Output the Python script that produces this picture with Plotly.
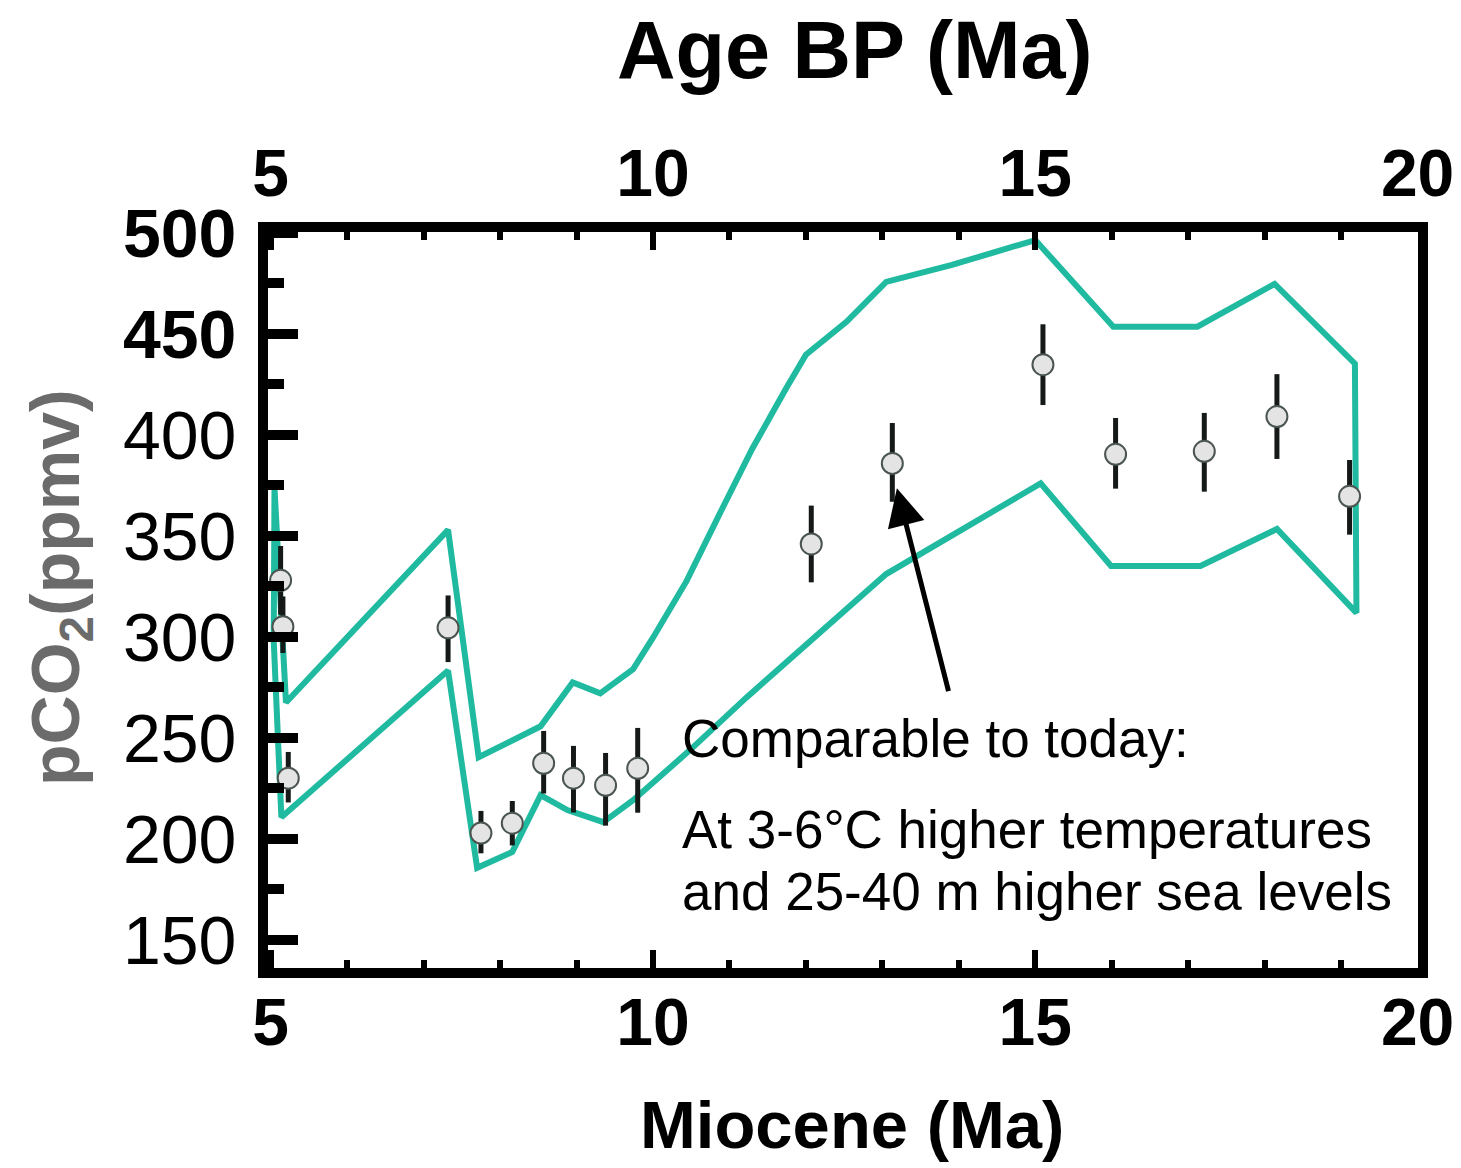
import plotly.graph_objects as go

# ---- data ----
upper_x = [5.05, 5.20, 7.32, 7.72, 8.53, 8.95, 9.31, 9.74, 10.0, 10.44, 10.87, 11.30, 11.74, 12.0, 12.53, 13.05, 13.91, 15.0, 16.02, 17.12, 18.13, 19.18, 19.20]
upper_y = [373.6, 267.5, 353.0, 240.4, 255.7, 277.4, 272.0, 284.0, 299.6, 327.7, 360.8, 393.3, 423.0, 439.7, 456.0, 475.8, 484.2, 496.5, 453.6, 453.6, 474.8, 435.3, 311.9]
lower_x = [5.04, 5.14, 7.32, 7.70, 8.16, 8.53, 8.88, 9.35, 9.74, 10.48, 11.22, 13.05, 15.07, 15.99, 17.16, 18.16, 19.20]
lower_y = [298.0, 210.7, 283.3, 185.6, 193.5, 221.6, 214.2, 208.2, 219.1, 243.8, 269.9, 331.1, 376.0, 335.1, 335.1, 353.4, 311.9]

pt_x = [5.13, 5.16, 5.23, 7.32, 7.75, 8.16, 8.57, 8.96, 9.38, 9.80, 12.07, 13.13, 15.10, 16.05, 17.21, 18.16, 19.11]
pt_y = [328.0, 305.0, 230.0, 304.5, 202.8, 207.7, 237.4, 230.0, 226.5, 234.9, 346.0, 385.9, 434.8, 390.4, 391.9, 409.1, 369.6]
err_plus = [17, 15, 13, 16, 11, 11, 16, 16, 16, 20, 19, 20, 20, 18, 19, 21, 18]
err_minus = [17, 13, 12, 17, 10, 11, 15, 17, 20, 22, 19, 19, 20, 17, 20, 21, 19]

x_ticks = [5, 10, 15, 20]
y_ticks = [150, 200, 250, 300, 350, 400, 450, 500]
y_ticktext = ["150", "200", "250", "300", "350", "400", "<b>450</b>", "<b>500</b>"]

TEAL = "#1FBA9F"
FONT = "Liberation Sans, Arial, sans-serif"

fig = go.Figure()

env_x = upper_x + lower_x[::-1] + [upper_x[0]]
env_y = upper_y + lower_y[::-1] + [upper_y[0]]
fig.add_trace(go.Scatter(x=env_x, y=env_y, mode="lines",
                         line=dict(color=TEAL, width=6), hoverinfo="skip"))

fig.add_trace(go.Scatter(
    x=pt_x, y=pt_y, mode="markers",
    marker=dict(size=21, color="#e4e4e4", line=dict(color="#4a5550", width=2)),
    error_y=dict(type="data", array=err_plus, arrayminus=err_minus,
                 thickness=5, width=0, color="#151a18"),
))

# invisible trace for top axis
fig.add_trace(go.Scatter(x=[x_ticks[0]], y=[y_ticks[0]], xaxis="x2", mode="markers",
                         marker=dict(opacity=0), hoverinfo="skip"))

XR = [4.965, 20.005]
YR = [136.0, 500.5]

# page body has an 8px margin: the figure is drawn at (8, 8)
OFF = 8
FIG_W = 1461 - OFF
FIG_H = 1168 - OFF
fig.update_layout(
    width=FIG_W, height=FIG_H,
    margin=dict(l=268 - OFF, r=FIG_W + OFF - 1418, t=232 - OFF, b=FIG_H + OFF - 968),
    paper_bgcolor="white", plot_bgcolor="white",
    showlegend=False,
    font=dict(family=FONT, color="black"),
    xaxis=dict(range=XR, tickvals=x_ticks, ticktext=[f"<b>{v}</b>" for v in x_ticks],
               showgrid=False, zeroline=False, automargin=False,
               showline=True, linewidth=10, linecolor="black", mirror="ticks",
               ticks="inside", ticklen=18, tickwidth=6, tickcolor="black",
               ticklabelstandoff=-12, ticklabeloverflow="allow",
               minor=dict(dtick=1, tick0=5, ticks="inside", ticklen=8, tickwidth=6, tickcolor="black"),
               tickfont=dict(size=66, family=FONT, color="black")),
    xaxis2=dict(range=XR, overlaying="x", side="top", tickvals=x_ticks,
                ticktext=[f"<b>{v}</b>" for v in x_ticks], automargin=False,
                showgrid=False, zeroline=False, showline=False, ticks="",
                ticklabelstandoff=22, ticklabeloverflow="allow",
                tickfont=dict(size=66, family=FONT, color="black")),
    yaxis=dict(range=YR, tickvals=y_ticks, ticktext=y_ticktext,
               showgrid=False, zeroline=False, automargin=False,
               showline=True, linewidth=10, linecolor="black", mirror=True,
               ticks="inside", ticklen=30, tickwidth=10, tickcolor="black",
               ticklabelstandoff=8,
               minor=dict(dtick=25, tick0=150, ticks="inside", ticklen=16, tickwidth=10, tickcolor="black"),
               tickfont=dict(size=68, family=FONT, color="black")),
)

W, H = 1150.0, 736.0
def px(xp):
    return (xp - 268) / W
def py(yp):
    return (968 - yp) / H

annos = [
    dict(text="<b>Age BP (Ma)</b>", x=px(855), y=py(50), xref="paper", yref="paper",
         showarrow=False, font=dict(size=81, family=FONT, color="black"),
         xanchor="center", yanchor="middle"),
    dict(text="<b>Miocene (Ma)</b>", x=px(852), y=py(1124), xref="paper", yref="paper",
         showarrow=False, font=dict(size=67, family=FONT, color="black"),
         xanchor="center", yanchor="middle"),
    dict(text="<b>pCO<sub>2</sub>(ppmv)</b>", x=px(60), y=py(588), xref="paper", yref="paper",
         showarrow=False, textangle=-90, font=dict(size=68, family=FONT, color="#6b6b6b"),
         xanchor="center", yanchor="middle"),
    dict(text="Comparable to today:", x=px(680), y=py(738), xref="paper", yref="paper",
         showarrow=False, font=dict(size=53, family=FONT, color="black"),
         xanchor="left", yanchor="middle"),
    dict(text="At 3-6°C higher temperatures", x=px(680), y=py(829), xref="paper", yref="paper",
         showarrow=False, font=dict(size=53, family=FONT, color="black"),
         xanchor="left", yanchor="middle"),
    dict(text="and 25-40 m higher sea levels", x=px(680), y=py(891), xref="paper", yref="paper",
         showarrow=False, font=dict(size=53, family=FONT, color="black"),
         xanchor="left", yanchor="middle"),
    dict(text="", x=13.19, y=373.6, xref="x", yref="y", ax=13.87, ay=272.4,
         axref="x", ayref="y", showarrow=True, arrowhead=2, arrowsize=1.5,
         arrowwidth=5, arrowcolor="black"),
]
fig.update_layout(annotations=annos)

fig.write_html("out.html")
